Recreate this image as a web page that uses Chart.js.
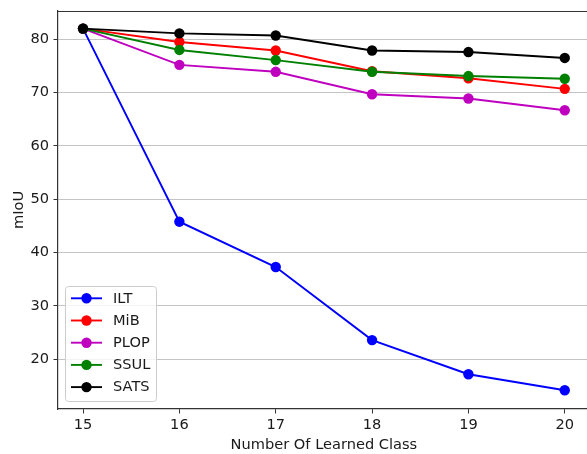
<!DOCTYPE html>
<html>
<head>
<meta charset="utf-8">
<script src="https://cdn.jsdelivr.net/npm/chart.js@4/dist/chart.umd.min.js"></script>
<style>
html,body{margin:0;padding:0;background:#fff;overflow:hidden;}
#wrap{width:595px;height:454px;position:relative;}
</style>
</head>
<body>
<div id="wrap"><canvas id="c" width="595" height="454"></canvas></div>
<script>
const classes = [15, 16, 17, 18, 19, 20];
const ILT  = [82.0, 45.8, 37.3, 23.6, 17.2, 14.2];
const MiB  = [82.0, 79.5, 77.9, 74.0, 72.7, 70.7];
const PLOP = [82.0, 75.2, 73.9, 69.7, 68.9, 66.7];
const SSUL = [82.0, 78.0, 76.1, 73.9, 73.1, 72.6];
const SATS = [82.0, 81.1, 80.7, 77.9, 77.6, 76.5];
const yTicks = [20, 30, 40, 50, 60, 70, 80];
const xTicks = [15, 16, 17, 18, 19, 20];

const FONT = "'DejaVu Sans', sans-serif";
const FS = 14.6;
const TXT = '#1a1a1a';
const series = [
  {label:'ILT', data:ILT, color:'#0000ff'},
  {label:'MiB', data:MiB, color:'#ff0000'},
  {label:'PLOP', data:PLOP, color:'#bf00bf'},
  {label:'SSUL', data:SSUL, color:'#008000'},
  {label:'SATS', data:SATS, color:'#000000'}
];

const datasets = series.map((s, i) => ({
  label: s.label,
  data: classes.map((x, j) => ({x: x, y: s.data[j]})),
  borderColor: s.color,
  backgroundColor: s.color,
  pointBackgroundColor: s.color,
  pointBorderColor: s.color,
  borderWidth: 1.9,
  pointRadius: 5.2,
  pointBorderWidth: 0,
  tension: 0,
  order: series.length - 1 - i
}));

const framePlugin = {
  id: 'frame',
  afterDraw(chart) {
    const ctx = chart.ctx, a = chart.chartArea;
    ctx.save();
    ctx.strokeStyle = '#333';
    ctx.lineWidth = 1.2;
    ctx.beginPath();
    ctx.moveTo(a.left, a.top + 0.5);
    ctx.lineTo(a.right, a.top + 0.5);
    ctx.stroke();
    // legend
    const bx = 65.5, by = 286.5, bw = 91, bh = 115;
    ctx.fillStyle = 'rgba(255,255,255,0.8)';
    ctx.strokeStyle = '#cccccc';
    ctx.lineWidth = 1;
    ctx.beginPath();
    if (ctx.roundRect) ctx.roundRect(bx, by, bw, bh, 3); else ctx.rect(bx, by, bw, bh);
    ctx.fill();
    ctx.stroke();
    ctx.font = FS + 'px ' + FONT;
    ctx.textBaseline = 'middle';
    series.forEach((s, i) => {
      const y = 298.3 + i * 22.2;
      ctx.strokeStyle = s.color;
      ctx.lineWidth = 1.9;
      ctx.beginPath();
      ctx.moveTo(71, y);
      ctx.lineTo(102, y);
      ctx.stroke();
      ctx.fillStyle = s.color;
      ctx.beginPath();
      ctx.arc(86.5, y, 5.2, 0, Math.PI * 2);
      ctx.fill();
      ctx.fillStyle = TXT;
      ctx.fillText(s.label, 113, y + 0.5);
    });
    ctx.restore();
  }
};

new Chart(document.getElementById('c'), {
  type: 'line',
  data: {datasets},
  options: {
    responsive: false,
    animation: false,
    events: [],
    layout: {padding: {left: 0, top: 11, right: 4, bottom: 0}},
    plugins: {legend: {display: false}, tooltip: {enabled: false}},
    scales: {
      x: {
        type: 'linear',
        min: 14.74,
        max: 20.26,
        afterBuildTicks: s => { s.ticks = xTicks.map(v => ({value: v})); },
        afterFit: s => { s.height = 45; s.paddingLeft = 0; s.paddingRight = 0; },
        grid: {drawOnChartArea: false, drawTicks: true, tickLength: 4.5, tickColor: '#333', tickWidth: 1},
        border: {display: true, color: '#333', width: 1.2},
        ticks: {color: TXT, font: {family: FONT, size: FS}, padding: 3, maxRotation: 0},
        title: {display: true, text: 'Number Of Learned Class', color: TXT, font: {family: FONT, size: FS}, padding: {top: 1, bottom: 0}}
      },
      y: {
        type: 'linear',
        min: 10.68,
        max: 85.3,
        afterBuildTicks: s => { s.ticks = yTicks.map(v => ({value: v})); },
        afterFit: s => { s.width = 58; s.paddingTop = 0; s.paddingBottom = 0; },
        grid: {color: '#c4c4c4', lineWidth: 1, drawTicks: true, tickLength: 4.5, tickColor: '#333', tickWidth: 1},
        border: {display: true, color: '#333', width: 1.2},
        ticks: {color: TXT, font: {family: FONT, size: FS}, padding: 4.5},
        title: {display: true, text: 'mIoU', color: TXT, font: {family: FONT, size: FS}, padding: {top: 10, bottom: 0}}
      }
    }
  },
  plugins: [framePlugin]
});
</script>
</body>
</html>
